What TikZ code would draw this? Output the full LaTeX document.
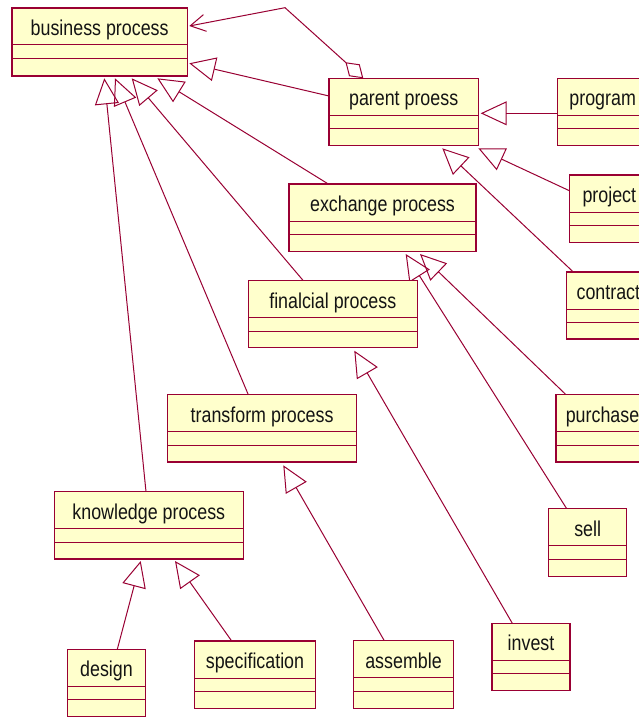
\documentclass[tikz,border=0pt]{standalone}
\usepackage{fontspec}
\setmainfont{Liberation Sans}[FakeStretch=0.83]
\usetikzlibrary{arrows.meta,calc}
\pgfdeclarelayer{bg}
\pgfsetlayers{bg,main}
\definecolor{umlred}{RGB}{153,0,51}
\definecolor{umlfill}{RGB}{255,255,204}
\definecolor{umltext}{RGB}{20,20,20}
\tikzset{
  ubox/.style={draw=umlred, fill=umlfill, line width=1.5pt, rectangle, inner sep=0pt, outer sep=0pt, anchor=north west},
  udiv/.style={draw=umlred, line width=1pt},
  utext/.style={text=umltext, font=\fontsize{21.5}{24}\selectfont, inner sep=0pt, anchor=base},
  gen/.style={draw=umlred, line width=1pt, -{Triangle[open, length=26pt, width=24pt]}},
  agg/.style={draw=umlred, line width=1pt, {Diamond[open, length=24pt, width=16pt]}-{Straight Barb[length=15pt, width=17pt]}}
}
% name, left, top, width, height, text
\newcommand\umlbox[6]{%
  \node[ubox, minimum width=#4pt, minimum height=#5pt] (#1) at (#2,#3) {};
  \draw[udiv] ($(#1.north west)+(0,37)$) -- ($(#1.north east)+(0,37)$);
  \draw[udiv] ($(#1.north west)+(0,50.5)$) -- ($(#1.north east)+(0,50.5)$);
  \node[utext] (#1-t) at ($(#1.north)+(0,27.3)$) {#6};
}
\begin{document}
\begin{tikzpicture}[x=1pt, y=-1pt]
\useasboundingbox (0,0) rectangle (639,717);
\clip (0,0) rectangle (639,717);
\begin{pgfonlayer}{bg}
\fill[white] (0,0) rectangle (639,717);
\end{pgfonlayer}

\umlbox{bp}{12}{8}{175.3}{68}{business process}
\umlbox{pp}{329}{78.3}{149.3}{67.4}{parent proess}
\umlbox{prog}{557.3}{78.3}{90.7}{67.4}{program}
\umlbox{proj}{569.7}{175}{79.3}{67.7}{project}
\umlbox{ex}{289}{184}{187}{67.3}{exchange process}
\umlbox{fin}{248.3}{280.7}{169}{67}{finalcial process}
\umlbox{con}{566.7}{272}{83.3}{67}{contract}
\umlbox{tr}{167.7}{394.7}{188.8}{67.3}{transform process}
\umlbox{pur}{556}{394.7}{93}{67.3}{purchase}
\umlbox{kn}{54.3}{491.7}{189}{67.3}{knowledge process}
\umlbox{sell}{548.7}{508.7}{78}{67.6}{sell}
\umlbox{des}{67.3}{649.3}{78.4}{67}{design}
\umlbox{spec}{194.7}{641}{120.6}{67.3}{specification}
\umlbox{asm}{353.7}{640.7}{99.6}{67.6}{assemble}
\umlbox{inv}{492}{623.3}{78}{67.4}{invest}

\begin{pgfonlayer}{bg}
\coordinate (agbend) at (285,7.7);
\draw[agg] ($(pp.north west)+(34.3,0)$) -- (agbend) -- ($(bp.north east)+(2,18)$);
\draw[gen] ($(pp.north west)+(0,17.7)$) -- ($(bp.north east)+(2,55.3)$);
\draw[gen] ($(ex.north west)+(39.3,0)$) -- ($(bp.south west)+(145.3,2.3)$);
\draw[gen] ($(fin.north west)+(55,0)$) -- ($(bp.south west)+(119.7,2.3)$);
\draw[gen] ($(tr.north west)+(80.6,0)$) -- ($(bp.south west)+(103,2.3)$);
\draw[gen] ($(kn.north west)+(91.7,0)$) -- ($(bp.south west)+(92.3,2.3)$);
\draw[gen] ($(prog.north west)+(0,35)$) -- ($(pp.north east)+(2.4,35)$);
\draw[gen] ($(proj.north west)+(0.3,16)$) -- ($(pp.south east)+(0,2.6)$);
\draw[gen] ($(con.north west)+(6.6,0)$) -- ($(pp.south west)+(113.3,2.6)$);
\draw[gen] ($(pur.north west)+(10,0)$) -- ($(ex.south west)+(131,2.7)$);
\draw[gen] ($(sell.north west)+(18,0)$) -- ($(ex.south west)+(116.7,2.7)$);
\draw[gen] ($(inv.north west)+(20.3,0)$) -- ($(fin.south west)+(106,3)$);
\draw[gen] ($(asm.north west)+(30.6,0)$) -- ($(tr.south west)+(115.6,3.3)$);
\draw[gen] ($(des.north west)+(50,0)$) -- ($(kn.south west)+(86.4,2)$);
\draw[gen] ($(spec.north west)+(37,0)$) -- ($(kn.south west)+(120.7,2)$);
\end{pgfonlayer}
\end{tikzpicture}
\end{document}
